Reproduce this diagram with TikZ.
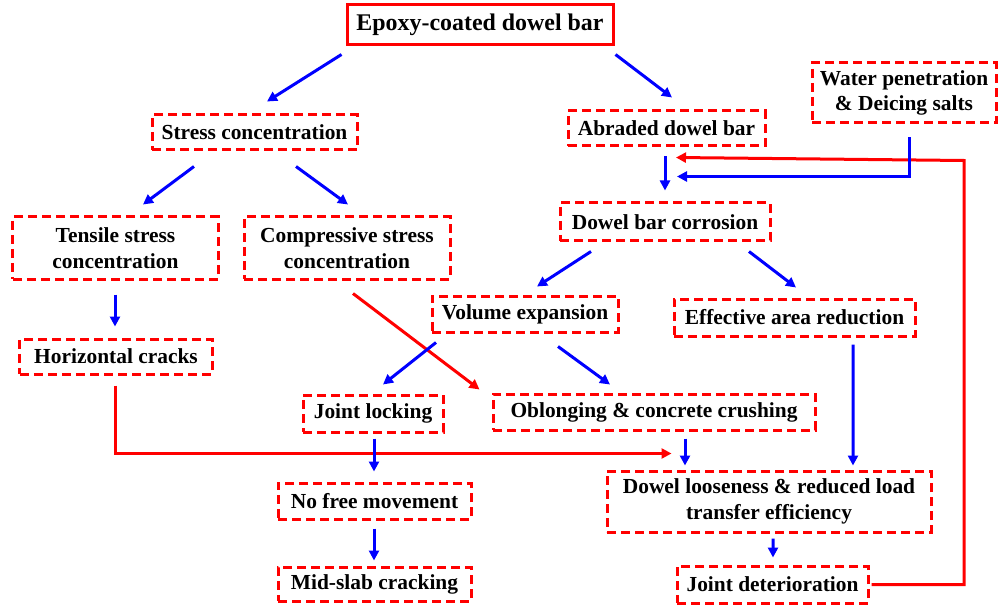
\documentclass[tikz,border=0pt]{standalone}
\usepackage{fontspec}
\setmainfont{Liberation Serif}
\usetikzlibrary{arrows.meta}

\tikzset{
  topbox/.style={draw=red, line width=3bp, inner sep=0pt, align=center,
    font=\fontsize{24}{28}\selectfont\bfseries},
  dbox/.style={draw=red, line width=3bp, dash pattern=on 9bp off 5bp,
    inner sep=0pt, align=center, font=\fontsize{21.5}{25.5}\selectfont\bfseries},
  bluearrow/.style={draw=blue, line width=3bp, -{Triangle[length=10bp,width=10bp]}},
  redarrow/.style={draw=red, line width=3bp, -{Triangle[length=10bp,width=10bp]}}
}

\begin{document}
\begin{tikzpicture}[x=1bp,y=-1bp]
        \useasboundingbox (0,0) rectangle (1003,605);

        \node[topbox, minimum width=266bp, minimum height=40bp] (epoxy) at (480,25) {Epoxy-coated dowel bar};
        \node[dbox, minimum width=205bp, minimum height=35bp] (stress) at (254.5,132.5) {Stress concentration};
        \node[dbox, minimum width=197bp, minimum height=35bp] (abraded) at (666.5,128.5) {Abraded dowel bar};
        \node[dbox, minimum width=184bp, minimum height=60bp] (water) at (904,93) {Water penetration\\\& Deicing salts};
        \node[dbox, minimum width=205bp, minimum height=62bp] (tensile) at (115.5,248) {Tensile stress\\concentration};
        \node[dbox, minimum width=206bp, minimum height=62bp] (compress) at (347,248) {Compressive stress\\concentration};
        \node[dbox, minimum width=210bp, minimum height=38bp] (corrosion) at (665,222) {Dowel bar corrosion};
        \node[dbox, minimum width=186bp, minimum height=36bp] (volume) at (525,314) {Volume expansion};
        \node[dbox, minimum width=241bp, minimum height=37bp] (effective) at (794.5,317.5) {Effective area reduction};
        \node[dbox, minimum width=192bp, minimum height=35bp] (horizontal) at (116,356.5) {Horizontal cracks};
        \node[dbox, minimum width=140bp, minimum height=37bp] (locking) at (373,413.5) {Joint locking};
        \node[dbox, minimum width=322bp, minimum height=36bp] (oblong) at (654,412) {Oblonging \& concrete crushing};
        \node[dbox, minimum width=193bp, minimum height=36bp] (nofree) at (374.5,501) {No free movement};
        \node[dbox, minimum width=324bp, minimum height=61bp] (looseness) at (769,501.5) {Dowel looseness \& reduced load\\transfer efficiency};
        \node[dbox, minimum width=193bp, minimum height=34bp] (midslab) at (374.5,584) {Mid-slab cracking};
        \node[dbox, minimum width=191bp, minimum height=37bp] (jointdet) at (772.5,584.5) {Joint deterioration};

        \draw[redarrow] ([shift={(-1,10)}]horizontal.south) |- ([shift={(66,-16)}]looseness.north west);
        \draw[redarrow] ([shift={(6,13)}]compress.south) -- ([shift={(-12,-3)}]oblong.north west);
        \draw[redarrow] ([shift={(2,0)}]jointdet.east) -| ([shift={(60,36)}]water.south) -- ([shift={(11,-44)}]corrosion.north);

        \draw[bluearrow] ([shift={(-4,8)}]epoxy.south west) -- ([shift={(12.5,-12)}]stress.north);
        \draw[bluearrow] ([shift={(1,8)}]epoxy.south east) -- ([shift={(5.5,-12)}]abraded.north);
        \draw[bluearrow] ([shift={(-60.5,15)}]stress.south) -- ([shift={(27.5,-11)}]tensile.north);
        \draw[bluearrow] ([shift={(41.5,15)}]stress.south) -- ([shift={(1,-11)}]compress.north);
        \draw[bluearrow] ([shift={(-0.5,14)}]tensile.south) -- ([shift={(-1,-11)}]horizontal.north);
        \draw[bluearrow] ([shift={(-1.5,9)}]abraded.south) -- ([shift={(0,-11)}]corrosion.north);
        \draw[bluearrow] ([shift={(5,13)}]water.south) |- ([shift={(12,-25)}]corrosion.north);
        \draw[bluearrow] ([shift={(-74,9)}]corrosion.south) -- ([shift={(12,-8)}]volume.north);
        \draw[bluearrow] ([shift={(84,9)}]corrosion.south) -- ([shift={(1.5,-10)}]effective.north);
        \draw[bluearrow] ([shift={(-89,9)}]volume.south) -- ([shift={(10,-9)}]locking.north);
        \draw[bluearrow] ([shift={(33,13)}]volume.south) -- ([shift={(-44,-8)}]oblong.north);
        \draw[bluearrow] ([shift={(1,5)}]locking.south) -- ([shift={(-0.5,-10)}]nofree.north);
        \draw[bluearrow] ([shift={(31,7)}]oblong.south) -- ([shift={(-84,-4)}]looseness.north);
        \draw[bluearrow] ([shift={(58.5,7)}]effective.south) -- ([shift={(84,-4)}]looseness.north);
        \draw[bluearrow] ([shift={(4,5)}]looseness.south) -- ([shift={(0.5,-7)}]jointdet.north);
        \draw[bluearrow] ([shift={(-0.5,8)}]nofree.south) -- ([shift={(-0.5,-5)}]midslab.north);
\end{tikzpicture}
\end{document}
